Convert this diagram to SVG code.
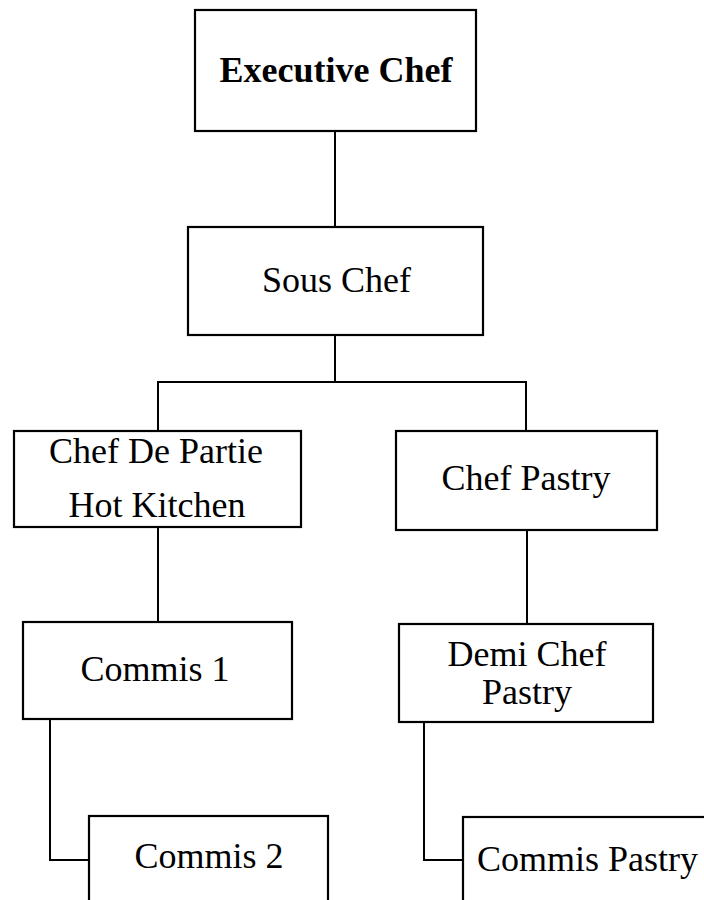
<svg xmlns="http://www.w3.org/2000/svg" width="704" height="900" viewBox="0 0 704 900">
<style>
.box{fill:#ffffff;stroke:#000000;stroke-width:2.2}
.lbl{font-family:'Liberation Serif','Times New Roman',Tinos,'DejaVu Serif',serif;font-size:36px;fill:#000000;text-anchor:middle}
.bold{font-weight:bold}
.conn{fill:none;stroke:#000000;stroke-width:2}
</style>
<rect width="704" height="900" fill="#ffffff"/>
<g id="connectors">
<path class="conn" d="M335 131 V227"/>
<path class="conn" d="M335 335 V382"/>
<path class="conn" d="M158 431 V382 H526 V431"/>
<path class="conn" d="M158 527 V622"/>
<path class="conn" d="M527 530 V624"/>
<path class="conn" d="M50 719 V860 H89"/>
<path class="conn" d="M424 722 V860 H463"/>
</g>
<g font-family="Liberation Serif, Times New Roman, serif">
<g id="executive-chef">
<rect class="box" x="195" y="10" width="281" height="121"/>
<text class="lbl bold" x="336" y="82">Executive Chef</text>
</g>
<g id="sous-chef">
<rect class="box" x="188" y="227" width="295" height="108"/>
<text class="lbl" x="336.5" y="292">Sous Chef</text>
</g>
<g id="chef-de-partie">
<rect class="box" x="14" y="431" width="287" height="96"/>
<text class="lbl" x="156" y="463">Chef De Partie</text>
<text class="lbl" x="157" y="517">Hot Kitchen</text>
</g>
<g id="chef-pastry">
<rect class="box" x="396" y="431" width="261" height="99"/>
<text class="lbl" x="526" y="490">Chef Pastry</text>
</g>
<g id="commis-1">
<rect class="box" x="23" y="622" width="269" height="97"/>
<text class="lbl" x="155" y="681">Commis 1</text>
</g>
<g id="demi-chef-pastry">
<rect class="box" x="399" y="624" width="254" height="98"/>
<text class="lbl" x="527" y="666">Demi Chef</text>
<text class="lbl" x="527" y="704">Pastry</text>
</g>
<g id="commis-2">
<rect class="box" x="89" y="816" width="239" height="100"/>
<text class="lbl" x="209" y="868">Commis 2</text>
</g>
<g id="commis-pastry">
<rect class="box" x="463" y="817" width="260" height="100"/>
<text class="lbl" x="477" y="871" style="text-anchor:start">Commis Pastry</text>
</g>
</g>
</svg>
